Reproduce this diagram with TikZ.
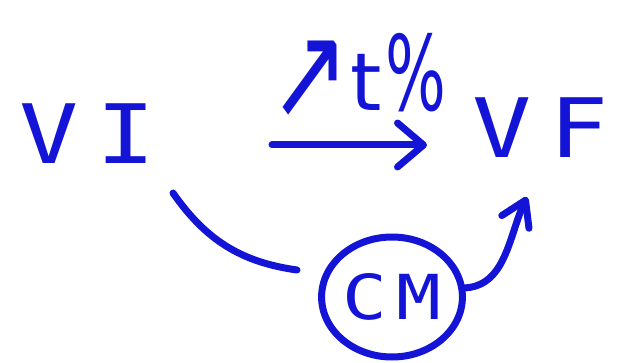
\documentclass[tikz,border=0pt]{standalone}
\usepackage{fontspec}
\setmainfont{DejaVu Sans Mono}[FakeStretch=1.2]
\newfontfamily\arrowfont{DejaVu Sans}
\usetikzlibrary{positioning, shapes.geometric, arrows.meta, calc}
\definecolor{pen}{RGB}{20,20,215}
\tikzstyle{ink}  = [draw=pen, line width=7pt, line cap=round, line join=round]
\tikzstyle{wide} = [ink, -{Straight Barb[length=26pt, width=44pt, round]}]

\begin{document}
\begin{tikzpicture}[x=1pt, y=1pt, font=\fontsize{82}{82}\selectfont,
  lbl/.style={text=pen, inner sep=0pt, text depth=0pt},
  ring/.style={ellipse, ink, text=pen, inner sep=0pt, minimum width=134pt,
               minimum height=120pt, font=\fontsize{62}{62}\selectfont},
  narrow/.style={ink, -{Straight Barb[length=24pt, width=30pt, round]}}]
\useasboundingbox (0,0) rectangle (621,362);
\node[lbl] (vi) at (88,228) {V\kern18pt I};
\node[lbl] (vf) at (541,234) {V\kern18pt F};
\node[lbl, font=\arrowfont\fontsize{80}{80}\selectfont] (rate) at (358,290)
  {\raisebox{-8pt}{\scalebox{1.2}[1.65]{↗}}t\kern4pt\scalebox{0.8}[1.3]{\%}};
\node[ring] (cm) at (392,65) {C\kern10pt M};
\draw[wide] ($(vi.center)+(184,-11)$) -- ($(vf.center)+(-114,-17)$);
\draw[ink] ($(vi.center)+(85,-59)$) to[out=-55, in=172] ($(cm.center)+(-95,27)$);
\draw[narrow] ($(cm.center)+(70,9)$) to[out=0, in=-115] ($(vf.center)+(-14,-69)$);
\end{tikzpicture}
\end{document}
